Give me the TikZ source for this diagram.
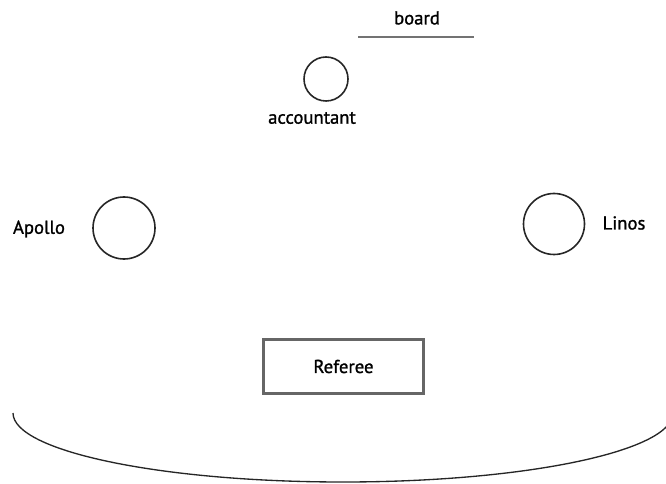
\documentclass[tikz,border=0pt]{standalone}
\usepackage{fontspec}
\setmainfont[FakeBold=1.2]{PT Sans}
\begin{document}
\begin{tikzpicture}[x=0.75pt,y=-0.75pt,
  person/.style={draw=black!85,line width=1.2pt,circle,minimum size=#1,inner sep=0pt},
  lbl/.style={font=\fontsize{14}{16}\selectfont,inner sep=0pt},
  judge/.style={draw=black!60,line width=1.6pt,minimum width=120pt,minimum height=40.5pt,inner sep=0pt},
  table/.style={draw=black!55,line width=1.7pt}]
\useasboundingbox (0,0) rectangle (666,484);
% seating
\node[person=44*0.75pt] (acc) at (326,79) {};
\node[lbl] (acclbl) at (312,118) {accountant};
\node[person=62*0.75pt] (apollo) at (124,228) {};
\node[lbl] (apollolbl) at (39,229) {Apollo};
\node[person=61*0.75pt] (linos) at (554,224) {};
\node[lbl] (linoslbl) at (624,223) {Linos};
% board
\node[lbl] (boardlbl) at (417,18) {board};
\coordinate (b1) at (358,37);
\coordinate (b2) at (474,37);
\draw[table] (b1) -- (b2);
% referee
\node[judge,lbl] (ref) at (343.5,366.5) {Referee};
% front curve
\draw[black!85,line width=1pt] (13,413) arc[start angle=180,end angle=0,x radius=330,y radius=69];
\end{tikzpicture}
\end{document}
